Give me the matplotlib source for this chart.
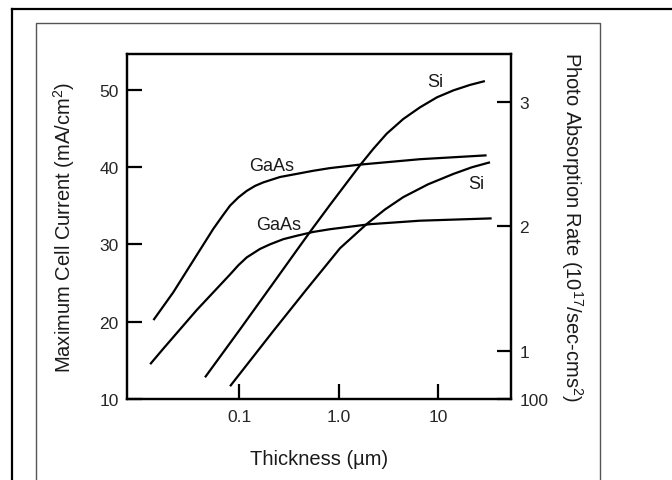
import matplotlib
matplotlib.use("Agg")
import matplotlib.pyplot as plt
from matplotlib.lines import Line2D

plt.rcParams['font.family'] = ['Liberation Sans', 'DejaVu Sans']
plt.rcParams['mathtext.fontset'] = 'custom'
plt.rcParams['mathtext.rm'] = 'Liberation Sans'
plt.rcParams['mathtext.it'] = 'Liberation Sans:italic'

# ---- data (thickness in um, current in mA/cm2) ----
gaas_hi_t = [0.0137, 0.0217, 0.0373, 0.0548, 0.068, 0.0807, 0.0977, 0.1186, 0.144, 0.174, 0.2565, 0.377, 0.551, 0.816, 1.63, 6.54, 30.6]
gaas_hi_i = [20.2, 23.8, 28.6, 32.0, 33.7, 35.0, 36.05, 36.9, 37.55, 38.0, 38.7, 39.1, 39.5, 39.85, 40.3, 41.0, 41.5]

gaas_lo_t = [0.0127, 0.0172, 0.0373, 0.0807, 0.098, 0.1186, 0.1614, 0.204, 0.2767, 0.377, 0.5546, 0.816, 2.06, 6.54, 34.4]
gaas_lo_i = [14.5, 16.5, 21.5, 26.1, 27.3, 28.3, 29.4, 30.0, 30.66, 31.1, 31.6, 31.95, 32.6, 33.05, 33.35]

si_hi_t = [0.0452, 0.1016, 0.220, 0.407, 0.534, 0.816, 1.63, 2.21, 3.03, 4.45, 6.54, 9.7, 14.2, 20.8, 29.4]
si_hi_i = [12.8, 19.0, 25.0, 29.8, 31.9, 35.1, 40.2, 42.3, 44.3, 46.2, 47.7, 49.0, 49.9, 50.6, 51.1]

si_lo_t = [0.0807, 0.220, 0.476, 1.03, 1.9, 2.91, 4.45, 7.88, 14.2, 21.8, 33.1]
si_lo_i = [11.65, 18.8, 24.2, 29.5, 32.6, 34.5, 36.1, 37.75, 39.1, 39.96, 40.6]

curve_labels = ["GaAs", "GaAs", "Si", "Si"]
label_t = [0.212, 0.247, 9.27, 23.9]
label_i = [40.2, 32.5, 51.0, 37.8]

x_ticks = [0.1, 1.0, 10]
x_ticklabels = ["0.1", "1.0", "10"]
y_ticks = [10, 20, 30, 40, 50]
y_ticklabels = ["10", "20", "30", "40", "50"]
r_ticks = [0.612, 1, 2, 3]
r_ticklabels = ["100", "1", "2", "3"]

fig = plt.figure(figsize=(6.72, 4.81), dpi=100)
ax = fig.add_axes([127/672, 1-400/481, (511-127)/672, (400-55)/481])

for t, i in [(gaas_hi_t, gaas_hi_i), (gaas_lo_t, gaas_lo_i), (si_hi_t, si_hi_i), (si_lo_t, si_lo_i)]:
    ax.plot(t, i, color='black', lw=1.6, solid_capstyle='butt', solid_joinstyle='round')

for s, t, i in zip(curve_labels, label_t, label_i):
    ax.text(t, i, s, fontsize=13, ha='center', va='center', color='#1a1a1a')

ax.set_xscale('log')
ax.set_xlim(10**-2.129, 10**1.731)
ax.set_ylim(10, 54.6)
ax.set_xticks(x_ticks)
ax.set_xticklabels(x_ticklabels)
ax.minorticks_off()
ax.set_yticks(y_ticks)
ax.set_yticklabels(y_ticklabels)
ax.tick_params(axis='both', direction='in', length=11, width=1.6, labelsize=12.5, colors='black', labelcolor='#262626')
ax.tick_params(axis='x', pad=7)
ax.tick_params(axis='y', pad=6)
for sp in ax.spines.values():
    sp.set_linewidth(1.6)
ax.set_xlabel("Thickness (µm)", fontsize=14.5, color='#1a1a1a', labelpad=18)
ax.set_ylabel("Maximum Cell Current (mA/cm$\\mathregular{^2}$)", fontsize=14.5, color='#1a1a1a', labelpad=16)

ax2 = ax.twinx()
ax2.set_ylim(0.612, 3.386)
ax2.set_yticks(r_ticks)
ax2.set_yticklabels(r_ticklabels)
ax2.tick_params(axis='y', direction='in', length=10, width=1.6, labelsize=12.5, pad=6, labelcolor='#262626')
for sp in ax2.spines.values():
    sp.set_linewidth(1.6)
ax2.set_ylabel("Photo Absorption Rate (10$\\mathregular{^{17}}$/sec-cms$\\mathregular{^2}$)",
               fontsize=14.5, rotation=270, color='#1a1a1a', labelpad=26)

# page frames of the scan
fig.add_artist(Line2D([12/672, 12/672], [0, 1-9.5/481], transform=fig.transFigure, color='black', lw=1.6))
fig.add_artist(Line2D([12/672, 1], [1-9.5/481, 1-9.5/481], transform=fig.transFigure, color='black', lw=1.6))
fig.add_artist(Line2D([36/672, 36/672, 600/672, 600/672], [0, 1-24/481, 1-24/481, 0],
                      transform=fig.transFigure, color='#555555', lw=1.0))

fig.savefig("out.png", dpi=100)
